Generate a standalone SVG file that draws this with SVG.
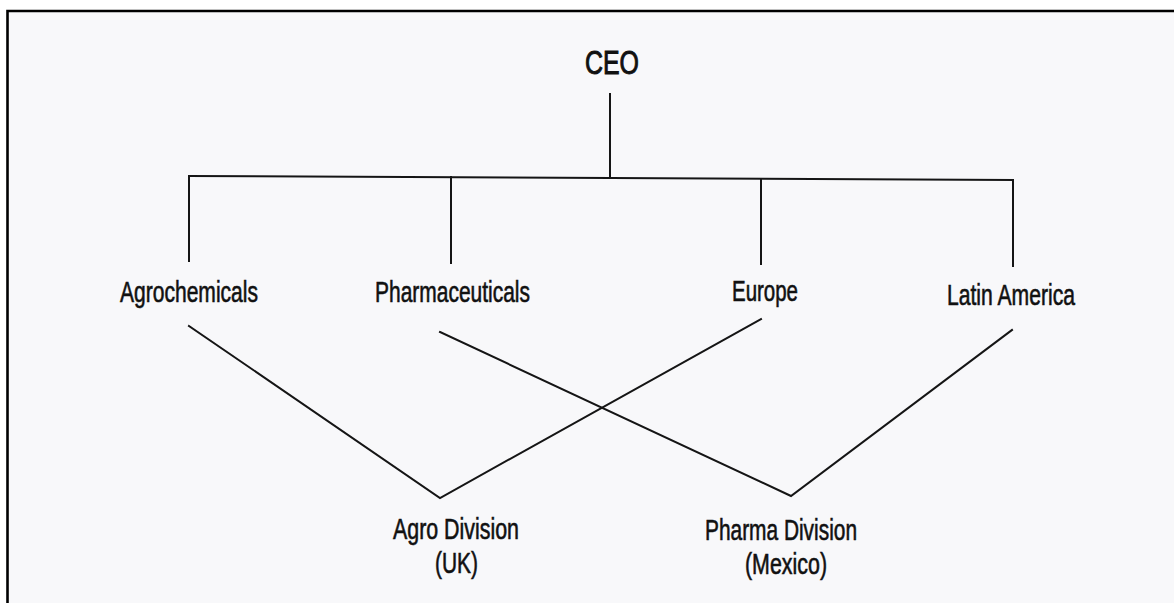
<svg xmlns="http://www.w3.org/2000/svg" width="1174" height="603" viewBox="0 0 1174 603">
  <style>
    .lbl { font-family: "Liberation Sans", Arial, sans-serif; font-size: 29px; fill: #111; stroke: #111; stroke-width: 0.6; }
    .ceo { font-family: "Liberation Sans", Arial, sans-serif; font-size: 34px; fill: #111; stroke: #111; stroke-width: 1; }
    .ln { stroke: #151515; stroke-width: 2; fill: none; stroke-linecap: square; }
  </style>
  <rect x="0" y="0" width="1174" height="603" fill="#ffffff"/>
  <rect x="7.5" y="11" width="1167" height="592" fill="#f8f8fa"/>
  <path d="M7.5,603 V11 H1174" stroke="#000" stroke-width="2.6" fill="none"/>

  <g id="connectors">
    <line class="ln" x1="610" y1="94" x2="610" y2="178"/>
    <line class="ln" x1="189" y1="176" x2="1013" y2="180"/>
    <line class="ln" x1="189" y1="176" x2="189" y2="261"/>
    <line class="ln" x1="451" y1="177" x2="451" y2="263"/>
    <line class="ln" x1="761" y1="179" x2="761" y2="264"/>
    <line class="ln" x1="1013" y1="180" x2="1013" y2="266"/>
    <polyline class="ln" points="189,326 440,498 761,319"/>
    <polyline class="ln" points="440,332 791,496 1012,330"/>
  </g>

  <g id="ceo"><text class="ceo" x="585" y="74" textLength="54" lengthAdjust="spacingAndGlyphs">CEO</text></g>
  <g id="agrochemicals"><text class="lbl" x="120" y="302" textLength="138" lengthAdjust="spacingAndGlyphs">Agrochemicals</text></g>
  <g id="pharmaceuticals"><text class="lbl" x="375" y="302" textLength="155" lengthAdjust="spacingAndGlyphs">Pharmaceuticals</text></g>
  <g id="europe"><text class="lbl" x="732" y="301" textLength="66" lengthAdjust="spacingAndGlyphs">Europe</text></g>
  <g id="latin-america"><text class="lbl" x="947" y="305" textLength="128" lengthAdjust="spacingAndGlyphs">Latin America</text></g>
  <g id="agro-division">
    <text class="lbl" x="393" y="539" textLength="126" lengthAdjust="spacingAndGlyphs">Agro Division</text>
    <text class="lbl" x="435" y="573" textLength="43" lengthAdjust="spacingAndGlyphs">(UK)</text>
  </g>
  <g id="pharma-division">
    <text class="lbl" x="705" y="540" textLength="152" lengthAdjust="spacingAndGlyphs">Pharma Division</text>
    <text class="lbl" x="745" y="574" textLength="82" lengthAdjust="spacingAndGlyphs">(Mexico)</text>
  </g>
</svg>
